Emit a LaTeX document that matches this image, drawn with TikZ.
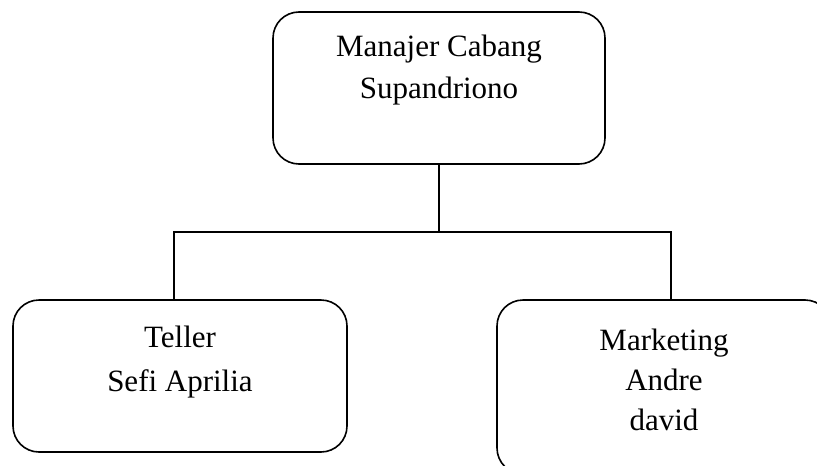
\documentclass[tikz,border=0pt]{standalone}
\usepackage{fontspec}
\setmainfont{Liberation Serif}
\usepackage{tikz}

\tikzset{
box/.style={draw,line width=0.8pt,rounded corners=13pt,align=center,
  font=\fontsize{15.5}{21}\selectfont,minimum width=167pt,minimum height=76pt},
link/.style={line width=0.8pt}
}

\begin{document}
\begin{tikzpicture}[x=0.5pt,y=-0.5pt]
\path[use as bounding box,clip](0,0)rectangle(817,465);
\node[box,minimum width=166pt] (manajer) at (439,88) {Manajer Cabang\\Supandriono\\\mbox{}};
\node[box,font=\fontsize{15.5}{22}\selectfont] (teller) at (180,376) {Teller\\Sefi Aprilia\\[-5pt]\mbox{}};
\node[box,font=\fontsize{15.5}{20}\selectfont,minimum height=87pt,text depth=7.5pt] (marketing) at (664,387) {Marketing\\Andre\\david};
\coordinate (bar) at (439,232);
\draw[link](manajer.south)--(bar);
\draw[link]([xshift=-3pt]teller.north)|-(bar)-|([xshift=3.5pt]marketing.north);
\end{tikzpicture}
\end{document}
